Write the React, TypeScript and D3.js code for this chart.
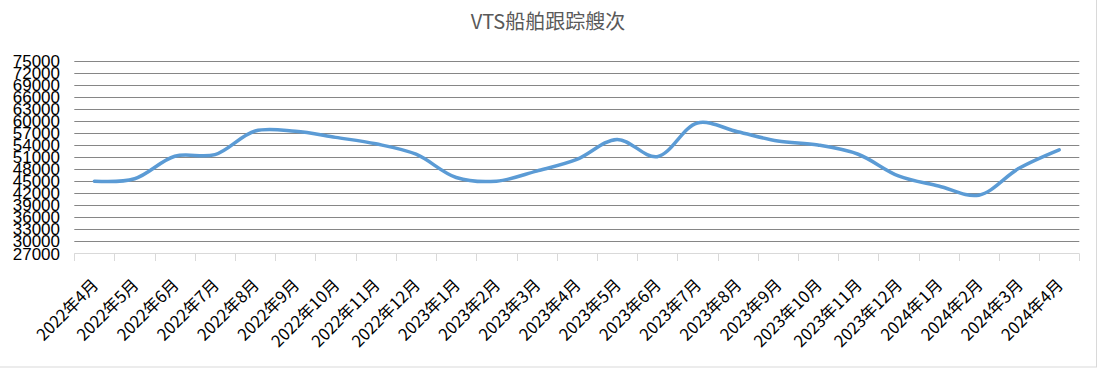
import React from "react";
import * as d3 from "d3";

const title = "VTS船舶跟踪艘次";
const categories = [
  "2022年4月", "2022年5月", "2022年6月", "2022年7月", "2022年8月", "2022年9月",
  "2022年10月", "2022年11月", "2022年12月", "2023年1月", "2023年2月", "2023年3月",
  "2023年4月", "2023年5月", "2023年6月", "2023年7月", "2023年8月", "2023年9月",
  "2023年10月", "2023年11月", "2023年12月", "2024年1月", "2024年2月", "2024年3月",
  "2024年4月",
];
const values = [
  45000, 45600, 51200, 51600, 57500, 57400,
  55900, 54300, 51700, 45900, 45000, 47500,
  50400, 55400, 51100, 59500, 57300, 55000,
  54000, 51700, 46300, 43800, 41500, 48200,
  52800,
];
const yTicks = d3.range(27000, 75001, 3000);

const W = 1099;
const H = 370;

export default function App() {
  const x = d3.scaleBand<string>().domain(categories).range([74.3, 1079.3]).padding(0);
  const y = d3.scaleLinear().domain([27000, 75000]).range([253.4, 60.7]);
  const line = d3
    .line<number>()
    .x((_, i) => (x(categories[i]) as number) + x.bandwidth() / 2)
    .y((d) => y(d))
    .curve(d3.curveCatmullRom.alpha(0.5));
  const x0 = x.range()[0];
  const x1 = x.range()[1];
  const axisY = y(27000);
  const boundaries = categories.map((c) => x(c) as number).concat([x1]);

  return (
    <svg
      width={W}
      height={H}
      style={{ position: "absolute", left: 0, top: 0, background: "#fff" }}
      fontFamily="'Noto Sans CJK SC', 'Noto Sans', sans-serif"
    >
      <rect x={-1} y={-1} width={1097.5} height={368} fill="#fff" stroke="#d9d9d9" strokeWidth={1} />
      <text x={548} y={29} textAnchor="middle" fontSize={20} fill="#595959">
        {title}
      </text>
      {yTicks
        .filter((t) => t !== 27000)
        .map((t) => (
          <line
            key={"g" + t}
            x1={x0}
            x2={x1}
            y1={Math.round(y(t)) + 0.5}
            y2={Math.round(y(t)) + 0.5}
            stroke="#868686"
            strokeWidth={1}
          />
        ))}
      <line x1={x0} x2={x1} y1={Math.round(axisY) + 0.5} y2={Math.round(axisY) + 0.5} stroke="#d9d9d9" />
      {boundaries.map((b, i) => (
        <line
          key={"t" + i}
          x1={Math.round(b) + 0.5}
          x2={Math.round(b) + 0.5}
          y1={Math.round(axisY) + 0.5}
          y2={Math.round(axisY) + 8}
          stroke="#d9d9d9"
        />
      ))}
      {yTicks.map((t) => (
        <text
          key={"y" + t}
          x={60}
          y={y(t)}
          dy="0.36em"
          textAnchor="end"
          fontSize={17}
          fill="#000"
          fontFamily="'Liberation Sans', Arial, sans-serif"
        >
          {t}
        </text>
      ))}
      {categories.map((c) => {
        const cx = (x(c) as number) + x.bandwidth() / 2;
        return (
          <text
            key={"x" + c}
            transform={`translate(${cx + 1},${282}) rotate(-45)`}
            textAnchor="end"
            dy="0.35em"
            fontSize={16.5}
            fill="#000"
          >
            {c}
          </text>
        );
      })}
      <path d={line(values) || ""} fill="none" stroke="#5b9bd5" strokeWidth={3.5} strokeLinecap="round" />
    </svg>
  );
}
